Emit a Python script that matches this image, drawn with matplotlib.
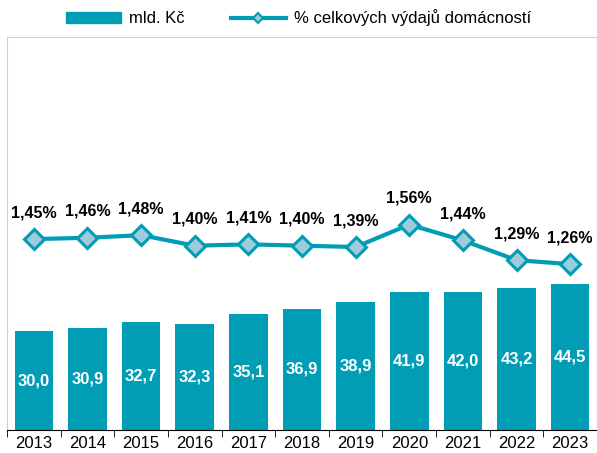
import matplotlib.pyplot as plt
from matplotlib.lines import Line2D
from matplotlib.patches import Patch
import numpy as np

years = ["2013", "2014", "2015", "2016", "2017", "2018", "2019", "2020", "2021", "2022", "2023"]
mld_kc = [30.0, 30.9, 32.7, 32.3, 35.1, 36.9, 38.9, 41.9, 42.0, 43.2, 44.5]
pct = [1.45, 1.46, 1.48, 1.40, 1.41, 1.40, 1.39, 1.56, 1.44, 1.29, 1.26]

teal = "#009DB5"
marker_fill = "#9FCCDB"


def fmt(v, nd):
    return f"{v:.{nd}f}".replace(".", ",")


plt.rcParams['font.family'] = ['Liberation Sans', 'DejaVu Sans']

fig = plt.figure(figsize=(5.97, 4.53), dpi=100)
ax = fig.add_axes([7 / 597, 23 / 453, 590 / 597, 393 / 453])
x = np.arange(len(years))

ax.bar(x, mld_kc, width=0.72, color=teal, zorder=2)
for xi, v in zip(x, mld_kc):
    ax.text(xi, v / 2, fmt(v, 1), ha="center", va="center", color="white",
            fontsize=12, fontweight="bold")

ax.set_xlim(-0.5, len(years) - 0.5)
ax.set_ylim(0, 119.4)
ax.set_yticks([])
ax.set_xticks(x)
ax.set_xticklabels(years, fontsize=12)
ax.set_xticks(np.arange(-0.5, len(years)), minor=True)
ax.tick_params(axis="x", which="major", length=0, pad=4)
ax.tick_params(axis="x", which="minor", length=5, color="black")
ax.spines["bottom"].set_color("black")
for s in ["left", "top", "right"]:
    ax.spines[s].set_color("#D0D0D0")

ax2 = ax.twinx()
ax2.set_ylim(0, 2.985)
ax2.set_yticks([])
ax2.plot(x, pct, color=teal, lw=3, marker="D", markersize=10,
         markerfacecolor=marker_fill, markeredgecolor=teal,
         markeredgewidth=2.2, zorder=3)
for xi, v in zip(x, pct):
    ax2.text(xi, v + 0.2, fmt(v, 2) + "%", ha="center", va="center",
             fontsize=11.5, fontweight="bold", color="black")
for s in ax2.spines.values():
    s.set_visible(False)

handles = [
    Patch(color=teal),
    Line2D([], [], color=teal, lw=3, marker="D", markersize=5,
           markerfacecolor=marker_fill, markeredgecolor=teal, markeredgewidth=1.5),
]
fig.legend(handles, ["mld. Kč", "% celkových výdajů domácností"],
           loc="center", bbox_to_anchor=(0.5, 1 - 18 / 453), ncol=2,
           frameon=False, fontsize=12, handlelength=3.3, handleheight=0.6,
           handletextpad=0.5, columnspacing=2.75)

fig.savefig("out.png", dpi=100)
